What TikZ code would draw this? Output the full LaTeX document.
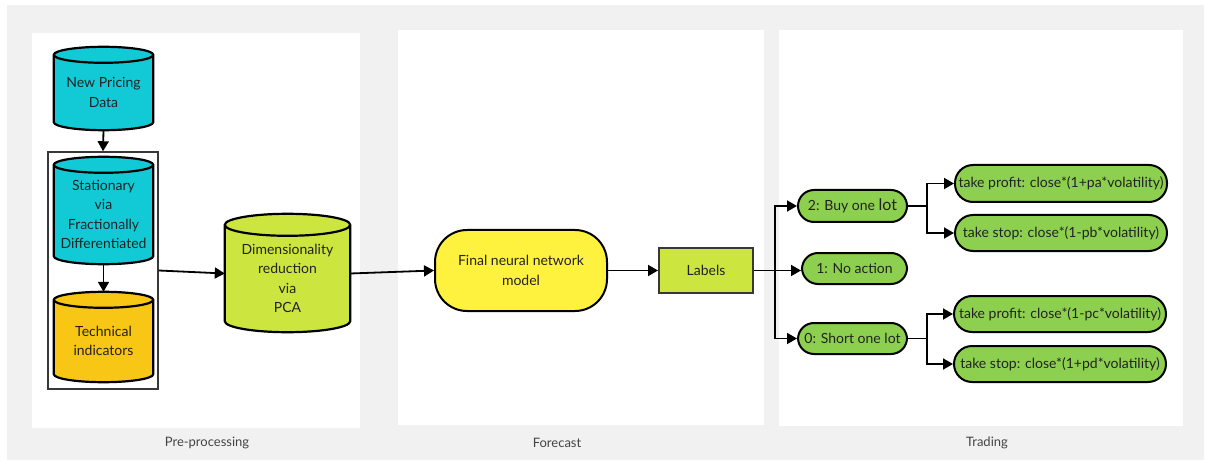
\documentclass[tikz,border=0pt]{standalone}
\usepackage{fontspec}
\setmainfont{Lato}
\usetikzlibrary{arrows.meta,calc}
\definecolor{bggray}{HTML}{F1F1F1}
\definecolor{cyanc}{HTML}{12CAD6}
\definecolor{orangec}{HTML}{F8C614}
\definecolor{limec}{HTML}{CDE63F}
\definecolor{yellowc}{HTML}{FFF23F}
\definecolor{greenc}{HTML}{8DD050}
\definecolor{inkc}{HTML}{222222}
\pgfdeclarelayer{bg}
\pgfdeclarelayer{mid}
\pgfsetlayers{bg,mid,main}
\tikzset{
  txt/.style={align=center,text=inkc,font=\fontsize{14}{19.3}\selectfont,inner sep=0pt},
  cylbody/.style={draw=black,line width=2.2pt},
  arr/.style={draw=black,line width=1.8pt,-{Triangle[length=10pt,width=11pt]}},
  plain/.style={draw=black,line width=1.8pt},
  greenbox/.style={txt,draw=black,line width=2pt,fill=greenc,rounded corners=16pt},
  title/.style={text=inkc!85,font=\fontsize{13}{15}\selectfont}
}
% cylinder drawn around a named node: #1 node, #2 end radius, #3 colour
\newcommand{\cylaround}[3]{%
  \begin{pgfonlayer}{mid}
  \path let \p1=(#1.north west), \p2=(#1.north east) in
    \pgfextra{\pgfmathsetmacro{\rxv}{(\x2-\x1)/2}}
    [cylbody,fill=#3]
    (#1.north west) -- ([yshift=#2]#1.south west)
    arc[start angle=180,end angle=360,x radius=\rxv pt,y radius=#2]
    -- (#1.north east)
    arc[start angle=0,end angle=180,x radius=\rxv pt,y radius=#2] -- cycle
    (#1.north) ellipse[x radius=\rxv pt,y radius=#2];
  \end{pgfonlayer}}
\begin{document}
\begin{tikzpicture}[x=1pt,y=1pt]
\useasboundingbox (0,0) rectangle (1206,-462);
\begin{pgfonlayer}{bg}
\fill[bggray] (7,-5) rectangle (1204,-460);
\fill[white] (32,-33) rectangle (360,-428);
\fill[white] (398,-30) rectangle (764,-425);
\fill[white] (779,-30) rectangle (1183,-426);
\end{pgfonlayer}
\node[title] (t1) at (207,-443) {Pre-processing};
\node[title] (t2) at (557,-443) {Forecast};
\node[title] (t3) at (987,-443) {Trading};

% pre-processing
\node[txt,minimum width=99pt,minimum height=75pt] (npd) at (103.5,-92.5) {New Pricing\\Data};
\cylaround{npd}{8pt}{cyanc}
\node[txt,minimum width=99pt,minimum height=99pt] (stat) at (103.5,-214.5) {Stationary\\via\\Fractionally\\Differentiated};
\cylaround{stat}{8pt}{cyanc}
\node[txt,minimum width=99pt,minimum height=82pt] (tech) at (103.5,-341) {Technical\\indicators};
\cylaround{tech}{8pt}{orangec}
\node[draw=inkc!90,line width=1.5pt,minimum width=110pt,minimum height=237pt,inner sep=0pt] (grp) at (103,-270.5) {};
\node[txt,minimum width=125pt,minimum height=107pt] (dim) at (287.5,-278.5) {Dimensionality\\reduction\\via\\PCA};
\cylaround{dim}{11pt}{limec}

\draw[arr] (npd.south) -- (grp.north);
\draw[arr] (stat.south) -- ([yshift=8pt]tech.north);
\draw[arr] (grp.east) -- ([yshift=5pt]dim.west);

% forecast
\node[txt,draw=black,line width=2pt,fill=yellowc,rounded corners=32pt,minimum width=172pt,minimum height=81pt] (final) at (521,-270.5) {Final neural network\\model};
\node[txt,draw=inkc!90,line width=2pt,fill=limec,minimum width=94pt,minimum height=45pt] (labels) at (706,-270.5) {Labels};
\draw[arr] ([yshift=5pt]dim.east) -- (final.west);
\draw[arr] (final.east) -- (labels.west);

% trading
\node[greenbox,minimum width=109pt,minimum height=32pt] (buy) at (852.5,-206) {2: Buy one {\fontsize{16}{19}\selectfont lot}};
\node[greenbox,minimum width=105pt,minimum height=31pt] (noact) at (854.5,-268.5) {1: No action};
\node[greenbox,minimum width=109pt,minimum height=31pt] (short) at (852.5,-338.5) {0: Short one lot};
\node[greenbox,minimum width=212pt,minimum height=37pt,rounded corners=18pt] (tp1) at (1061,-183.5) {take profit: close*(1+pa*volatility)};
\node[greenbox,minimum width=212pt,minimum height=36pt,rounded corners=18pt] (ts1) at (1061,-233) {take stop: close*(1-pb*volatility)};
\node[greenbox,minimum width=212pt,minimum height=36pt,rounded corners=18pt] (tp2) at (1060,-314) {take profit: close*(1-pc*volatility)};
\node[greenbox,minimum width=212pt,minimum height=36pt,rounded corners=18pt] (ts2) at (1060,-364) {take stop: close*(1+pd*volatility)};

\coordinate (br) at (775,-270.5);
\draw[arr] (labels.east) -- (noact.west |- br);
\draw[arr] (br) |- (buy.west);
\draw[arr] (br) |- (short.west);
\coordinate (bb) at (927,-206);
\coordinate (sb) at (927,-338.5);
\draw[plain] (buy.east) -- (bb);
\draw[arr] (bb) |- (tp1.west);
\draw[arr] (bb) |- (ts1.west);
\draw[plain] (short.east) -- (sb);
\draw[arr] (sb) |- (tp2.west);
\draw[arr] (sb) |- (ts2.west);
\end{tikzpicture}
\end{document}
